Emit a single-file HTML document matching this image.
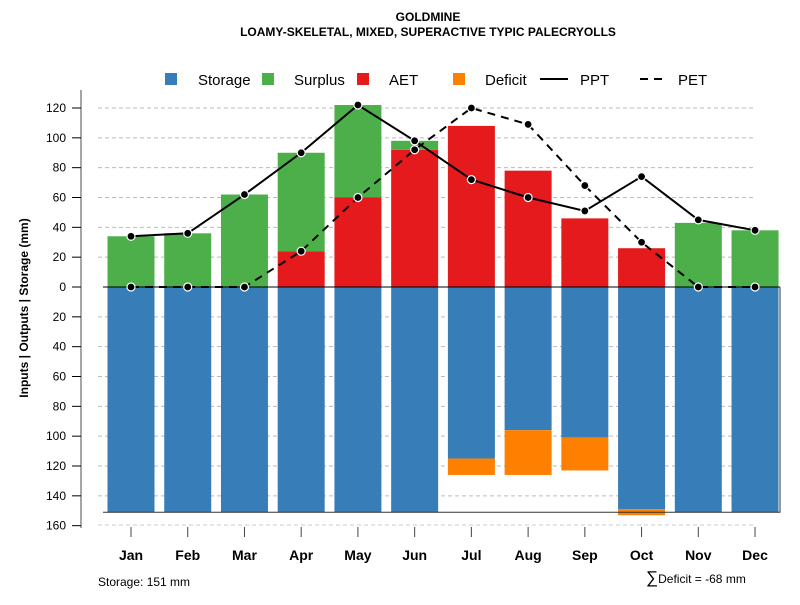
<!DOCTYPE html>
<html><head><meta charset="utf-8"><style>
body{margin:0;background:#fff;font-family:"Liberation Sans",sans-serif}
svg text{font-family:"Liberation Sans",sans-serif}
</style></head><body>
<svg id="c" width="800" height="600" xmlns="http://www.w3.org/2000/svg">
<text x="428" y="21" text-anchor="middle" font-size="12" font-weight="bold">GOLDMINE</text>
<text x="428" y="36" text-anchor="middle" font-size="12" font-weight="bold">LOAMY-SKELETAL, MIXED, SUPERACTIVE TYPIC PALECRYOLLS</text>
<g id="legend" font-size="15">
<g><rect x="165" y="73" width="12" height="12" fill="#377eb8"/><text x="198" y="85">Storage</text></g>
<g><rect x="262" y="73" width="12" height="12" fill="#4daf4a"/><text x="294" y="85">Surplus</text></g>
<g><rect x="357" y="73" width="12" height="12" fill="#e41a1c"/><text x="389" y="85">AET</text></g>
<g><rect x="453" y="73" width="12" height="12" fill="#ff7f00"/><text x="485" y="85">Deficit</text></g>
<g><line x1="540" y1="79" x2="568" y2="79" stroke="#000" stroke-width="2"/><text x="580" y="85">PPT</text></g>
<g><line x1="640" y1="79" x2="668" y2="79" stroke="#000" stroke-width="2" stroke-dasharray="8,6"/><text x="678" y="85">PET</text></g>
</g>
<text transform="translate(28,308) rotate(-90)" text-anchor="middle" font-size="12" font-weight="bold">Inputs | Outputs | Storage    (mm)</text>
<g id="plot"></g>
<text x="98" y="586" font-size="12">Storage: 151 mm</text>
<text x="646" y="583" font-size="12"><tspan font-size="17">∑</tspan>Deficit = -68 mm</text>
</svg>
<script>
const months=["Jan","Feb","Mar","Apr","May","Jun","Jul","Aug","Sep","Oct","Nov","Dec"];
const storage=[151,151,151,151,151,151,115,96,101,149,151,151];
const deficit=[0,0,0,0,0,0,11,30,22,4,0,0];
const aet=[0,0,0,24,60,92,108,78,46,26,0,0];
const surplus=[34,36,62,66,62,6,0,0,0,0,43,38];
const ppt=[34,36,62,90,122,98,72,60,51,74,45,38];
const pet=[0,0,0,24,60,92,120,109,68,30,0,0];
const yTicks=[120,100,80,60,40,20,0,20,40,60,80,100,120,140,160];
const yTickVals=[120,100,80,60,40,20,0,-20,-40,-60,-80,-100,-120,-140,-160];
const NS="http://www.w3.org/2000/svg";
const g=document.getElementById('plot');
const y=v=>287-v*179/120;
const x=i=>131+i*56.73;
const bw=47;
function mk(t,a){const e=document.createElementNS(NS,t);for(const k in a)e.setAttribute(k,a[k]);g.appendChild(e);return e;}
// axis
let e=mk('line',{x1:81,y1:90,x2:81,y2:528,stroke:'#888','stroke-width':1.5});


yTickVals.forEach((v,i)=>{
 const yy=y(v);
 if(v!==0&&i<yTickVals.length-1){let gl=mk('line',{x1:98,y1:yy,x2:756,y2:yy,stroke:'#bbb','stroke-dasharray':'4,3'});
 
 }
 let t=mk('line',{x1:72,y1:yy,x2:81,y2:yy,stroke:'#000'});
 
 
 let l=mk('text',{x:66,y:yy+4,'text-anchor':'end','font-size':12});l.textContent=yTicks[i];
 
 
});
e=mk('line',{x1:98,y1:525,x2:756,y2:525,stroke:'#ccc','stroke-dasharray':'4,3'});


months.forEach((m,i)=>{
 const cx=x(i);
 let r=mk('rect',{x:cx-bw/2,y:y(0),width:bw,height:y(-storage[i])-y(0),fill:'#377eb8'});
 
 
 if(deficit[i]>0){r=mk('rect',{x:cx-bw/2,y:y(-storage[i]),width:bw,height:y(-storage[i]-deficit[i])-y(-storage[i]),fill:'#ff7f00'});
 
 }
 if(aet[i]>0){r=mk('rect',{x:cx-bw/2,y:y(aet[i]),width:bw,height:y(0)-y(aet[i]),fill:'#e41a1c'});
 
 }
 if(surplus[i]>0){r=mk('rect',{x:cx-bw/2,y:y(aet[i]+surplus[i]),width:bw,height:y(aet[i])-y(aet[i]+surplus[i]),fill:'#4daf4a'});
 
 }
 let t=mk('line',{x1:cx,y1:527,x2:cx,y2:537,stroke:'#444'});
 
 
 let l=mk('text',{x:cx,y:560,'text-anchor':'middle','font-size':14,'font-weight':'bold'});l.textContent=m;
 
 
});
e=mk('line',{x1:103,y1:y(0),x2:780,y2:y(0),stroke:'#000'});


e=mk('polyline',{points:`103,${y(-151)} 780,${y(-151)} 780,${y(0)}`,fill:'none',stroke:'#333'});


e=mk('polyline',{points:pet.map((v,i)=>x(i)+','+y(v)).join(' '),fill:'none',stroke:'#000','stroke-width':2,'stroke-dasharray':'8,6'});


e=mk('polyline',{points:ppt.map((v,i)=>x(i)+','+y(v)).join(' '),fill:'none',stroke:'#000','stroke-width':2});


pet.forEach((v,i)=>{let c=mk('circle',{cx:x(i),cy:y(v),r:4,fill:'#000',stroke:'#fff','stroke-width':1.2});

});
ppt.forEach((v,i)=>{let c=mk('circle',{cx:x(i),cy:y(v),r:4,fill:'#000',stroke:'#fff','stroke-width':1.2});

});
</script>
</body></html>
